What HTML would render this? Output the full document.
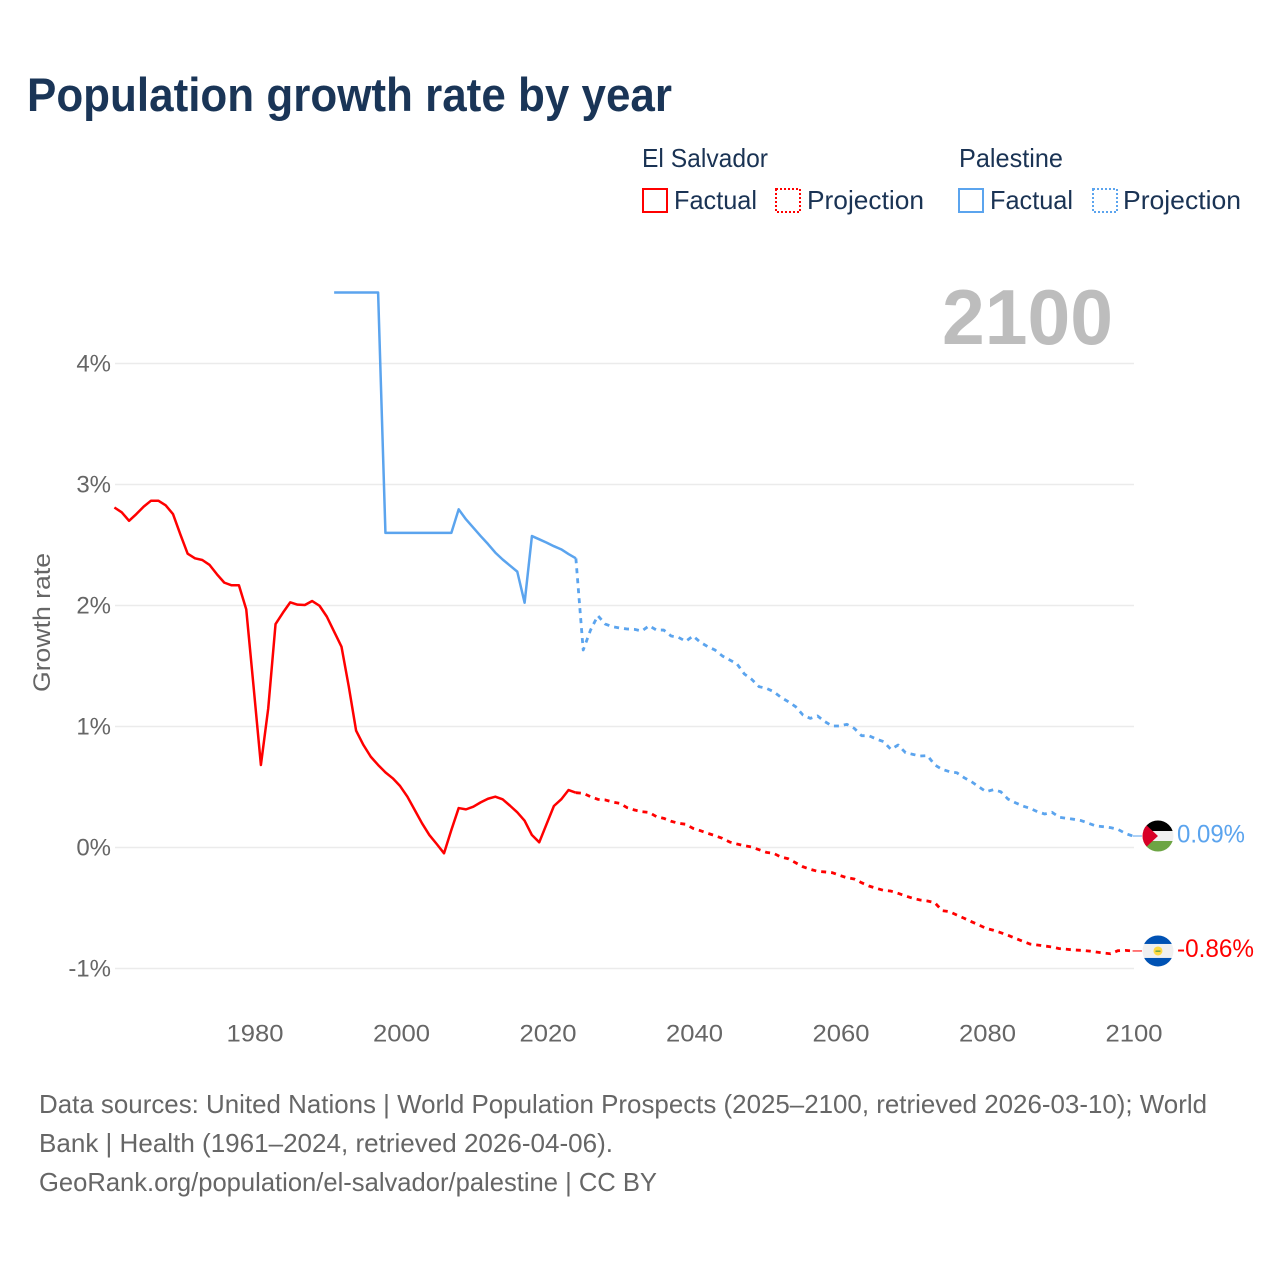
<!DOCTYPE html>
<html lang="en">
<head>
<meta charset="utf-8">
<title>Population growth rate by year</title>
<style>
html,body{margin:0;padding:0;background:#fff;width:1280px;height:1280px;overflow:hidden}
svg{display:block}
text{font-family:"Liberation Sans",sans-serif}
</style>
</head>
<body>
<svg id="chart" xmlns="http://www.w3.org/2000/svg" width="1280" height="1280" viewBox="0 0 1280 1280">
  <rect width="1280" height="1280" fill="#fff"/>
  <text x="27" y="111" font-size="47" font-weight="700" fill="#1a3557" textLength="645" lengthAdjust="spacingAndGlyphs">Population growth rate by year</text>

  <g font-size="26" fill="#1a3354">
    <text x="642" y="167" textLength="126" lengthAdjust="spacingAndGlyphs">El Salvador</text>
    <text x="959" y="167" textLength="104" lengthAdjust="spacingAndGlyphs">Palestine</text>
    <rect x="643" y="189" width="24" height="23" fill="none" stroke="#ff0000" stroke-width="2"/>
    <text x="674" y="209" textLength="83" lengthAdjust="spacingAndGlyphs">Factual</text>
    <rect x="776" y="189" width="24" height="23" fill="none" stroke="#ff0000" stroke-width="2" stroke-dasharray="2 2"/>
    <text x="807" y="209" textLength="117" lengthAdjust="spacingAndGlyphs">Projection</text>
    <rect x="959" y="189" width="24" height="23" fill="none" stroke="#5ba4ee" stroke-width="2"/>
    <text x="990" y="209" textLength="83" lengthAdjust="spacingAndGlyphs">Factual</text>
    <rect x="1093" y="189" width="24" height="23" fill="none" stroke="#5ba4ee" stroke-width="2" stroke-dasharray="2 2"/>
    <text x="1123" y="209" textLength="118" lengthAdjust="spacingAndGlyphs">Projection</text>
  </g>

  <g id="grid"></g>
  <g id="yticks"></g>
  <g id="xticks"></g>

  <text x="1113" y="344" text-anchor="end" font-size="78" font-weight="700" fill="#bdbdbd" textLength="171" lengthAdjust="spacingAndGlyphs">2100</text>
  <text transform="translate(50,622.5) rotate(-90)" text-anchor="middle" font-size="24" fill="#666" textLength="139" lengthAdjust="spacingAndGlyphs">Growth rate</text>

  <g id="series"></g>

  <defs>
    <clipPath id="clipPs"><circle id="clipPsC" r="15.5"/></clipPath>
    <clipPath id="clipSv"><circle id="clipSvC" r="15.5"/></clipPath>
  </defs>
  <g id="flagPs" clip-path="url(#clipPs)"></g>
  <g id="flagSv" clip-path="url(#clipSv)"></g>
  <text id="labelPs" x="1177" font-size="25" fill="#5ba4ee" textLength="68" lengthAdjust="spacingAndGlyphs">0.09%</text>
  <text id="labelSv" x="1177" font-size="25" fill="#ff0000" textLength="77" lengthAdjust="spacingAndGlyphs">-0.86%</text>

  <g font-size="26" fill="#666">
    <text x="39" y="1113" textLength="1168" lengthAdjust="spacingAndGlyphs">Data sources: United Nations | World Population Prospects (2025–2100, retrieved 2026-03-10); World</text>
    <text x="39" y="1152" textLength="574" lengthAdjust="spacingAndGlyphs">Bank | Health (1961–2024, retrieved 2026-04-06).</text>
    <text x="39" y="1191" textLength="618" lengthAdjust="spacingAndGlyphs">GeoRank.org/population/el-salvador/palestine | CC BY</text>
  </g>
</svg>
<script>
const yTickValues = [-1, 0, 1, 2, 3, 4];
const yTickLabels = ["-1%", "0%", "1%", "2%", "3%", "4%"];
const xTickYears = [1980, 2000, 2020, 2040, 2060, 2080, 2100];
const xTickLabels = ["1980", "2000", "2020", "2040", "2060", "2080", "2100"];

const elSalvadorFactualStart = 1961;
const elSalvadorFactual = [
  2.81,2.77,2.70,2.756,2.817,2.866,2.866,2.828,2.756,2.588,
  2.428,2.39,2.376,2.335,2.258,2.189,2.167,2.167,1.968,1.329,
  0.682,1.15,1.847,1.94,2.026,2.007,2.004,2.037,1.998,1.908,
  1.784,1.66,1.329,0.965,0.847,0.75,0.682,0.621,0.572,0.508,
  0.42,0.31,0.2,0.103,0.029,-0.048,0.145,0.326,0.315,0.337,
  0.373,0.403,0.42,0.398,0.346,0.291,0.222,0.103,0.043,0.194,
  0.343,0.398,0.475,0.453
];
const elSalvadorProjectionStart = 2024;
const elSalvadorProjection = [
  0.453,0.448,0.42,0.398,0.393,0.376,0.365,0.329,0.31,0.296,
  0.29,0.255,0.241,0.217,0.2,0.192,0.158,0.139,0.117,0.098,
  0.076,0.045,0.029,0.015,0.004,-0.018,-0.04,-0.048,-0.079,-0.093,
  -0.126,-0.159,-0.18,-0.197,-0.202,-0.208,-0.23,-0.25,-0.26,-0.291,
  -0.318,-0.337,-0.354,-0.36,-0.379,-0.40,-0.42,-0.434,-0.442,-0.456,
  -0.522,-0.53,-0.558,-0.585,-0.613,-0.64,-0.668,-0.684,-0.704,-0.726,
  -0.75,-0.775,-0.798,-0.806,-0.814,-0.822,-0.836,-0.841,-0.847,-0.85,
  -0.855,-0.864,-0.872,-0.878,-0.853,-0.85,-0.855
];
const palestineFactualStart = 1991;
const palestineFactual = [
  4.587,4.587,4.587,4.587,4.587,4.587,4.587,2.6,2.6,2.6,
  2.6,2.6,2.6,2.6,2.6,2.6,2.6,2.795,2.712,2.643,
  2.574,2.508,2.437,2.38,2.33,2.28,2.023,2.574,2.547,2.52,
  2.49,2.464,2.425,2.39
];
const palestineProjectionStart = 2024;
const palestineProjection = [
  2.39,1.632,1.797,1.916,1.847,1.825,1.814,1.806,1.803,1.789,
  1.833,1.797,1.797,1.748,1.737,1.704,1.748,1.696,1.66,1.632,
  1.583,1.55,1.517,1.434,1.39,1.329,1.316,1.288,1.241,1.205,
  1.164,1.095,1.067,1.087,1.04,1.004,1.004,1.018,0.985,0.924,
  0.924,0.897,0.875,0.811,0.847,0.784,0.77,0.756,0.759,0.682,
  0.646,0.627,0.618,0.577,0.544,0.502,0.461,0.478,0.461,0.4,
  0.37,0.343,0.324,0.296,0.277,0.291,0.25,0.241,0.233,0.222,
  0.2,0.178,0.172,0.164,0.15,0.117,0.095
];

const NS = "http://www.w3.org/2000/svg";
const xScale = year => 115.8 + (year - 1961) * 7.325;
const lineX = year => xScale(year) - 1.4;
const yScale = value => 847.5 - value * 121;

function make(tag, attrs, parent) {
  const el = document.createElementNS(NS, tag);
  for (const key in attrs) el.setAttribute(key, attrs[key]);
  parent.appendChild(el);
  return el;
}
function pathFrom(startYear, values) {
  return values.map((v, i) => (i ? "L" : "M") + lineX(startYear + i).toFixed(2) + " " + yScale(v).toFixed(2)).join(" ");
}

const grid = document.getElementById("grid");
const yticks = document.getElementById("yticks");
yTickValues.forEach((v, i) => {
  const line = make("line", {x1: 115, x2: 1134, y1: yScale(v), y2: yScale(v), stroke: "#ebebeb", "stroke-width": 1.5}, grid);
  
  
  const label = make("text", {x: 111, y: yScale(v) + 8, "text-anchor": "end", "font-size": 24, fill: "#666"}, yticks);
  
  
  label.textContent = yTickLabels[i];
});

const xticks = document.getElementById("xticks");
xTickYears.forEach((yr, i) => {
  const label = make("text", {x: xScale(yr), y: 1041.5, "text-anchor": "middle", "font-size": 24, fill: "#666", textLength: 57, lengthAdjust: "spacingAndGlyphs"}, xticks);
  
  
  label.textContent = xTickLabels[i];
});

const series = document.getElementById("series");
const lineBase = {fill: "none", "stroke-width": 2.5, "stroke-linejoin": "round"};
const dashBase = {fill: "none", "stroke-width": 2.8, "stroke-linejoin": "round", "stroke-dasharray": "5 5"};

const svFactualLine = make("path", Object.assign({d: pathFrom(elSalvadorFactualStart, elSalvadorFactual), stroke: "#ff0000"}, lineBase), series);



const svProjectionLine = make("path", Object.assign({d: pathFrom(elSalvadorProjectionStart, elSalvadorProjection), stroke: "#ff0000"}, dashBase), series);



const psFactualLine = make("path", Object.assign({d: pathFrom(palestineFactualStart, palestineFactual), stroke: "#5ba4ee"}, lineBase), series);



const psProjectionLine = make("path", Object.assign({d: pathFrom(palestineProjectionStart, palestineProjection), stroke: "#5ba4ee"}, dashBase), series);



const psEnd = yScale(palestineProjection[palestineProjection.length - 1]);
const svEnd = yScale(elSalvadorProjection[elSalvadorProjection.length - 1]);
const endX = xScale(2100);

const psConnector = make("line", {x1: endX - 1.4, x2: endX + 8, y1: psEnd, y2: psEnd, stroke: "#8fc0f2", "stroke-width": 1.5}, series);


const svConnector = make("line", {x1: endX - 1.4, x2: endX + 8, y1: svEnd, y2: svEnd, stroke: "#ff4d4d", "stroke-width": 1.5}, series);



const cx = endX + 24;
document.getElementById("clipPsC").setAttribute("cx", cx);
document.getElementById("clipPsC").setAttribute("cy", psEnd);
document.getElementById("clipSvC").setAttribute("cx", cx);
document.getElementById("clipSvC").setAttribute("cy", svEnd);

const fp = document.getElementById("flagPs");
make("rect", {x: cx - 16, y: psEnd - 16, width: 32, height: 32, fill: "#f0f0f0"}, fp);
make("rect", {x: cx - 16, y: psEnd - 16, width: 32, height: 11, fill: "#000"}, fp);
make("rect", {x: cx - 16, y: psEnd + 5, width: 32, height: 11, fill: "#6da544"}, fp);
make("polygon", {points: (cx - 16) + "," + (psEnd - 15) + " " + cx + "," + psEnd + " " + (cx - 16) + "," + (psEnd + 15), fill: "#d80027"}, fp);

const fs = document.getElementById("flagSv");
make("rect", {x: cx - 16, y: svEnd - 16, width: 32, height: 32, fill: "#f0f0f0"}, fs);
make("rect", {x: cx - 16, y: svEnd - 16, width: 32, height: 9, fill: "#0052b4"}, fs);
make("rect", {x: cx - 16, y: svEnd + 7, width: 32, height: 9, fill: "#0052b4"}, fs);
make("circle", {cx: cx, cy: svEnd, r: 4.5, fill: "#ffda44"}, fs);
make("rect", {x: cx - 2.5, y: svEnd - 0.5, width: 5, height: 1.5, fill: "#6da544"}, fs);

document.getElementById("labelPs").setAttribute("y", psEnd + 6.5);
document.getElementById("labelSv").setAttribute("y", svEnd + 6);
</script>
</body>
</html>
